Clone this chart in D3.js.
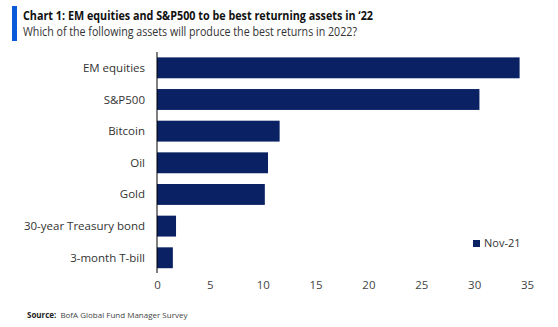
<!DOCTYPE html>
<html>
<head>
<meta charset="utf-8">
<script src="https://cdn.jsdelivr.net/npm/d3@7"></script>
<style>
  body { margin: 0; background: #fff; }
  svg { display: block; font-family: "Open Sans", "Noto Sans", sans-serif; }
</style>
</head>
<body>
<div id="chart"></div>
<script>
// data
var categories = ["EM equities", "S&P500", "Bitcoin", "Oil", "Gold", "30-year Treasury bond", "3-month T-bill"];
var values = [34.3, 30.5, 11.6, 10.5, 10.2, 1.8, 1.5];
var ticks = [0, 5, 10, 15, 20, 25, 30, 35];
var seriesName = "Nov-21";

var width = 558, height = 327;
var barColor = "#0a2264";

var svg = d3.select("#chart")
    .append("svg")
    .attr("width", width)
    .attr("height", height);

// title block
svg.append("rect")
    .attr("x", 12).attr("y", 6)
    .attr("width", 5).attr("height", 35)
    .attr("fill", "#0b5ad9");
svg.append("text")
    .attr("x", 23).attr("y", 20)
    .attr("font-size", "13px")
    .attr("font-weight", "bold")
    .attr("fill", "#111")
    .attr("textLength", 350)
    .attr("lengthAdjust", "spacingAndGlyphs")
    .text("Chart 1:  EM equities and S&P500 to be best returning assets in \u201822");
svg.append("text")
    .attr("x", 23).attr("y", 36)
    .attr("font-size", "12.5px")
    .attr("fill", "#333")
    .attr("textLength", 334)
    .attr("lengthAdjust", "spacingAndGlyphs")
    .text("Which of the following assets will produce the best returns in 2022?");

var x = d3.scaleLinear()
    .domain([0, 35])
    .range([157, 527]);

var y = d3.scaleBand()
    .domain(categories)
    .range([52, 273.6])
    .paddingInner(0.34)
    .paddingOuter(0.17);

var data = categories.map(function (c, i) { return {category: c, value: values[i]}; });

// bars
svg.append("g")
    .selectAll("rect")
    .data(data)
    .enter()
    .append("rect")
    .attr("x", x(0))
    .attr("y", function (d) { return y(d.category); })
    .attr("width", function (d) { return x(d.value) - x(0); })
    .attr("height", y.bandwidth())
    .attr("fill", barColor);

// category labels
svg.append("g")
    .selectAll("text")
    .data(categories)
    .enter()
    .append("text")
    .attr("x", 145)
    .attr("y", function (d) { return y(d) + y.bandwidth() / 2; })
    .attr("dy", "0.35em")
    .attr("text-anchor", "end")
    .attr("font-size", "11.5px")
    .attr("fill", "#333")
    .text(function (d) { return d; });

// vertical axis line
svg.append("line")
    .attr("x1", x(0)).attr("x2", x(0))
    .attr("y1", 52).attr("y2", 273)
    .attr("stroke", "#000")
    .attr("stroke-width", 1);

// x tick labels
var xAxis = d3.axisBottom(x)
    .tickValues(ticks)
    .tickSize(0)
    .tickPadding(0);
var gx = svg.append("g")
    .attr("transform", "translate(0,281)")
    .call(xAxis);
gx.select(".domain").remove();
gx.selectAll("text")
    .attr("font-size", "11.5px")
    .attr("font-family", "\"Open Sans\", sans-serif")
    .attr("fill", "#444");

// legend
svg.append("rect")
    .attr("x", 473).attr("y", 240)
    .attr("width", 7).attr("height", 7)
    .attr("fill", barColor);
svg.append("text")
    .attr("x", 484).attr("y", 243.5)
    .attr("dy", "0.35em")
    .attr("font-size", "11px")
    .attr("fill", "#333")
    .text(seriesName);

// source
var src = svg.append("text")
    .attr("x", 27).attr("y", 318)
    .attr("font-size", "8px")
    .attr("fill", "#222");
src.append("tspan").attr("font-weight", "bold").text("Source:");
src.append("tspan").attr("dx", 4).attr("fill", "#444").text("BofA Global Fund Manager Survey");
</script>
</body>
</html>
